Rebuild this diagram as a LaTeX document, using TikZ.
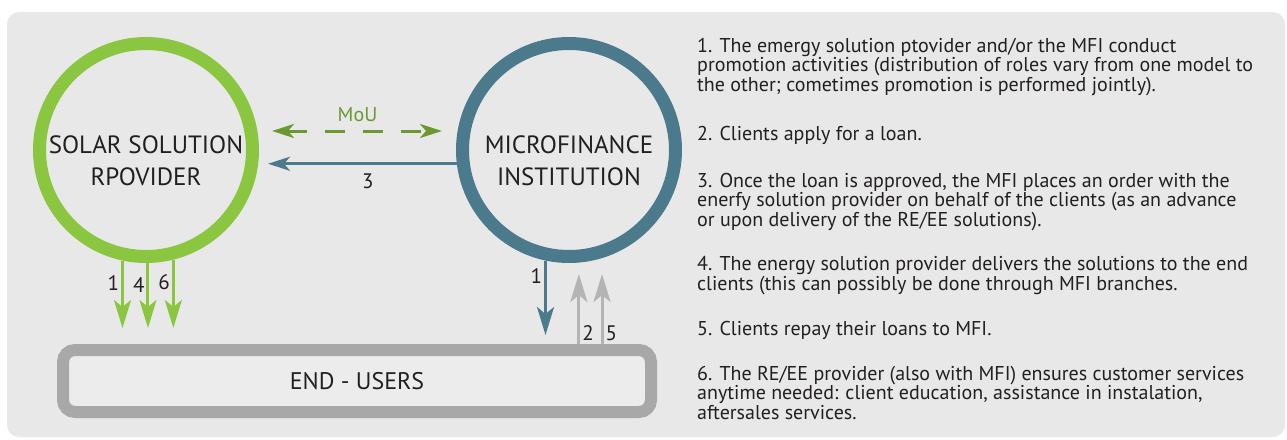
\documentclass[tikz,border=0pt]{standalone}
\usepackage{fontspec}
\setmainfont{PT Sans}
\usetikzlibrary{arrows.meta}
\definecolor{solargreen}{RGB}{138,198,64}
\definecolor{mougreen}{RGB}{108,152,48}
\definecolor{mfiblue}{RGB}{74,122,140}
\definecolor{panelgrey}{RGB}{232,232,232}
\definecolor{boxgrey}{RGB}{168,168,168}
\definecolor{boxfill}{RGB}{236,236,236}
\definecolor{upgrey}{RGB}{180,180,180}
\definecolor{txtgrey}{RGB}{35,31,32}
\begin{document}
\begin{tikzpicture}[x=1pt,y=-1pt,
 ring/.style={circle,line width=13pt,minimum size=213pt,inner sep=0pt},
 ringtext/.style={align=center,text=txtgrey,font=\fontsize{25}{32}\selectfont},
 endbox/.style={draw=boxgrey,fill=boxfill,line width=12pt,rounded corners=12pt,minimum width=588pt,minimum height=62pt,text=txtgrey,font=\fontsize{24}{30}\selectfont},
 num/.style={text=txtgrey,font=\fontsize{21}{24}\selectfont,inner sep=2pt},
 note/.style={anchor=base west,align=left,inner sep=0pt,text=txtgrey,font=\fontsize{20}{19.5}\selectfont},
 vtip/.style={-{Stealth[length=28pt,width=17pt,inset=7pt]}},
 htip/.style={-{Stealth[length=22pt,width=14pt,inset=6pt]}},
 greenarr/.style={vtip,draw=solargreen,line width=3pt},
 bluearr/.style={draw=mfiblue,line width=3pt},
 greyarr/.style={vtip,draw=upgrey,line width=3pt},
 mouarr/.style={{Stealth[length=22pt,width=14pt,inset=6pt]}-{Stealth[length=22pt,width=14pt,inset=6pt]},draw=mougreen,line width=3pt,dash pattern=on 20pt off 18pt}]
\useasboundingbox (0,0) rectangle (1287,439);
\fill[panelgrey,rounded corners=12pt] (7,12) rectangle (1285,437);

\node[ring,draw=solargreen] (solar) at (146,150) {};
\node[ring,draw=mfiblue] (mfi) at (569,150) {};
\node[ringtext] (solartxt) at (146,161) {SOLAR SOLUTION\\RPOVIDER};
\node[ringtext] (mfitxt) at (569,161) {MICROFINANCE\\INSTITUTION};
\node[endbox] (users) at (357,381) {END - USERS};

\draw[mouarr,shorten <=13pt,shorten >=14pt] (solar.east |- 0,131) -- node[above=4pt,text=mougreen,font=\fontsize{20}{22}\selectfont]{MoU} (mfi.west |- 0,131);
\draw[bluearr,htip,shorten >=9pt] (mfi.187) -- node[num,pos=0.45,below=7pt]{3} (solar.east |- mfi.187);
\foreach \a/\n in {258/1,271/4,284/6}
 \draw[greenarr,shorten >=16pt] (solar.\a) -- node[num,pos=0.27,left=0pt]{\n} (solar.\a |- users.north);
\draw[bluearr,vtip,shorten >=9pt] (mfi.258) -- node[num,pos=0.18,left=0pt]{1} (mfi.258 |- users.north);
\foreach \a/\n in {275/2,287/5}
 \draw[greyarr] (users.north -| mfi.\a) -- node[num,pos=0.15,right=0pt]{\n} (mfi.\a |- 0,274);

% notes: base anchor sits on the last line
\node[note] (p1) at (697,91) {1. The emergy solution ptovider and/or the MFI conduct\\promotion activities (distribution of roles vary from one model to\\the other; cometimes promotion is performed jointly).};
\node[note] (p2) at (697,140) {2. Clients apply for a loan.};
\node[note] (p3) at (697,226) {3. Once the loan is approved, the MFI places an order with the\\enerfy solution provider on behalf of the clients (as an advance\\or upon delivery of the RE/EE solutions).};
\node[note] (p4) at (697,290) {4. The energy solution provider delivers the solutions to the end\\clients (this can possibly be done through MFI branches.};
\node[note] (p5) at (697,335) {5. Clients repay their loans to MFI.};
\node[note] (p6) at (697,419) {6. The RE/EE provider (also with MFI) ensures customer services\\anytime needed: client education, assistance in instalation,\\aftersales services.};
\end{tikzpicture}
\end{document}
